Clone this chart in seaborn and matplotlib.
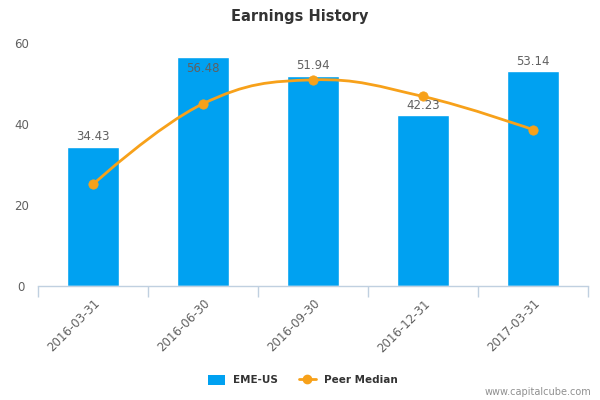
import numpy as np
import pandas as pd
import seaborn as sns
import matplotlib
matplotlib.use("Agg")
import matplotlib.pyplot as plt
from matplotlib.path import Path
from matplotlib.patches import PathPatch, Patch
from matplotlib.lines import Line2D

# data
periods = ["2016-03-31", "2016-06-30", "2016-09-30", "2016-12-31", "2017-03-31"]
eme_us = [34.43, 56.48, 51.94, 42.23, 53.14]
peer_median = [25.1, 45.0, 50.9, 46.8, 38.6]

bar_color = "#00A1F1"
line_color = "#F7A11A"
text_gray = "#606060"
axis_color = "#C0D0E0"

sns.set_style("white")
plt.rcParams["font.family"] = ["DejaVu Sans"]

df = pd.DataFrame({"period": periods, "EME-US": eme_us, "Peer Median": peer_median})

fig = plt.figure(figsize=(6, 4), dpi=100)
ax = fig.add_axes([38 / 600, 114 / 400, 550 / 600, 243 / 400])

sns.barplot(data=df, x="period", y="EME-US", color=bar_color, saturation=1,
            width=0.47, ax=ax, zorder=2)


def spline_path(xs, ys, smoothing=1.5):
    # highcharts-style spline segments built from the data points
    verts = [(xs[0], ys[0])]
    codes = [Path.MOVETO]
    n = len(xs)
    right_prev = (xs[0], ys[0])
    for i in range(1, n):
        x, y = xs[i], ys[i]
        if i < n - 1:
            lx = (smoothing * x + xs[i - 1]) / (smoothing + 1)
            ly = (smoothing * y + ys[i - 1]) / (smoothing + 1)
            rx = (smoothing * x + xs[i + 1]) / (smoothing + 1)
            ry = (smoothing * y + ys[i + 1]) / (smoothing + 1)
            corr = ((ry - ly) * (rx - x)) / (rx - lx) + y - ry
            ly += corr
            ry += corr
            left = (lx, ly)
            right = (rx, ry)
        else:
            left = (x, y)
            right = (x, y)
        verts += [right_prev, left, (x, y)]
        codes += [Path.CURVE4] * 3
        right_prev = right
    return Path(verts, codes)


xpos = np.arange(len(periods))
ax.add_patch(PathPatch(spline_path(xpos, peer_median), fill=False,
                       edgecolor=line_color, lw=2, zorder=3))
sns.scatterplot(x=xpos, y=peer_median, color=line_color, s=45,
                edgecolor=line_color, ax=ax, zorder=4, legend=False)

ax.set_ylim(0, 60)
ax.set_xlim(-0.5, len(periods) - 0.5)

for i, v in enumerate(eme_us):
    if v + 4 > 60:
        ax.annotate(f"{v:.2f}", (i, v), xytext=(0, -8), textcoords="offset points",
                    ha="center", va="center", fontsize=8.5, color=text_gray, zorder=5)
    else:
        ax.annotate(f"{v:.2f}", (i, v), xytext=(0, 7), textcoords="offset points",
                    ha="center", va="center", fontsize=8.5, color=text_gray, zorder=5)

for s in ["top", "right", "left"]:
    ax.spines[s].set_visible(False)
ax.spines["bottom"].set_color(axis_color)
ax.spines["bottom"].set_linewidth(1)

ax.set_yticks([0, 20, 40, 60])
ax.tick_params(axis="y", length=0, pad=12, labelsize=8.5, labelcolor=text_gray)
for lab in ax.get_yticklabels():
    lab.set_horizontalalignment("center")

ax.set_xticks(xpos)
ax.set_xticklabels(periods, rotation=45, ha="right", rotation_mode="anchor",
                   fontsize=8.5, color=text_gray)
ax.tick_params(axis="x", which="major", length=0, pad=8)
ax.set_xticks(np.arange(-0.5, len(periods)), minor=True)
ax.tick_params(axis="x", which="minor", bottom=True, length=8,
               color=axis_color, width=1)
ax.set_xlabel("")
ax.set_ylabel("")
ax.grid(False)

fig.text(0.5, 0.96, "Earnings History", ha="center", va="center",
         fontsize=10.5, fontweight="bold", color="#333333")

handles = [
    Patch(facecolor=bar_color, edgecolor="none", label="EME-US"),
    Line2D([0], [0], color=line_color, lw=2, marker="o", markersize=6,
           label="Peer Median"),
]
fig.legend(handles=handles, loc="center", bbox_to_anchor=(0.505, 0.05), ncol=2,
           frameon=False, prop={"size": 7.5, "weight": "bold"},
           handlelength=1.6, handleheight=1.1, columnspacing=2.0,
           labelcolor="#333333")

fig.text(0.985, 0.02, "www.capitalcube.com", ha="right", va="center",
         fontsize=7, color="#909090")

fig.savefig("out.png", dpi=100)
